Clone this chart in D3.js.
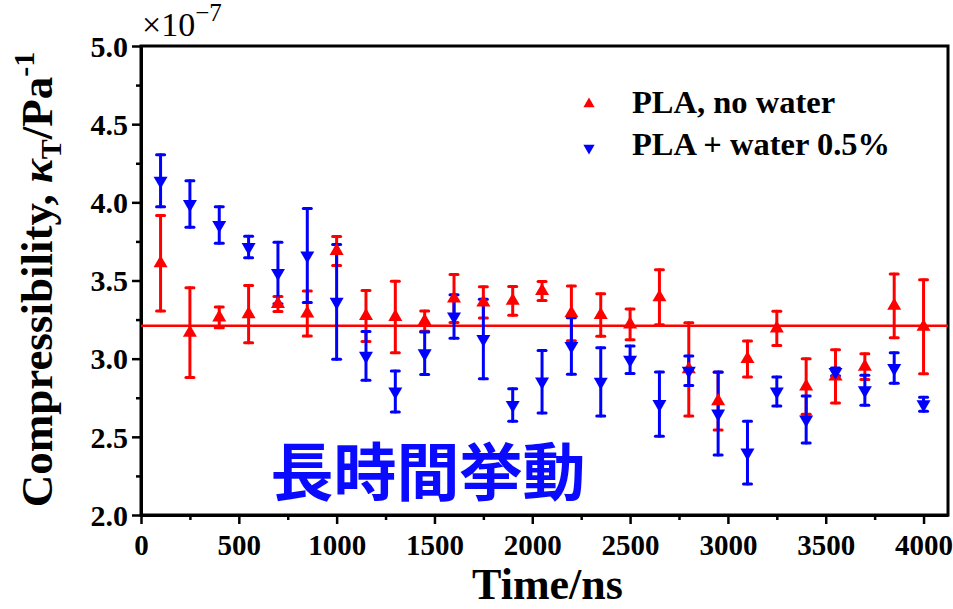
<!DOCTYPE html>
<html>
<head>
<meta charset="utf-8">
<script src="https://cdn.jsdelivr.net/npm/d3@7"></script>
<style>
  html, body { margin: 0; padding: 0; background: #fff; }
  svg { display: block; }
</style>
</head>
<body>
<svg id="chart" width="953" height="609"></svg>
<script>
// Simulation time (ns)
const times = [100, 250, 400, 550, 700, 850, 1000, 1150, 1300, 1450, 1600, 1750, 1900, 2050,
  2200, 2350, 2500, 2650, 2800, 2950, 3100, 3250, 3400, 3550, 3700, 3850, 4000];

// Isothermal compressibility (×10^-7 Pa^-1), PLA without water
const dryValues = [3.61, 3.166, 3.264, 3.285, 3.35, 3.289, 3.689, 3.273, 3.267, 3.24, 3.385, 3.36, 3.37, 3.433,
  3.29, 3.279, 3.219, 3.393, 2.932, 2.728, 2.998, 3.194, 2.822, 2.887, 2.949, 3.338, 3.204];
const dryErrors = [0.305, 0.287, 0.066, 0.183, 0.048, 0.144, 0.093, 0.163, 0.229, 0.065, 0.153, 0.10, 0.092, 0.061,
  0.175, 0.136, 0.098, 0.176, 0.298, 0.185, 0.115, 0.11, 0.178, 0.17, 0.083, 0.204, 0.30];

// PLA with 0.5% water
const wetValues = [4.138, 3.989, 3.855, 3.714, 3.548, 3.66, 3.363, 3.018, 2.79, 3.034, 3.27, 3.126, 2.704, 2.853,
  3.081, 2.852, 2.993, 2.709, 2.923, 2.649, 2.399, 2.79, 2.611, 2.915, 2.798, 2.94, 2.708];
const wetErrors = [0.166, 0.149, 0.117, 0.069, 0.197, 0.30, 0.367, 0.156, 0.131, 0.136, 0.139, 0.254, 0.104, 0.20,
  0.181, 0.218, 0.088, 0.205, 0.094, 0.266, 0.20, 0.093, 0.15, 0.025, 0.096, 0.098, 0.045];

// Mean level of the dry series
const dryMean = 3.21;

const seriesNames = ["PLA, no water", "PLA + water 0.5%"];
const xTicks = [0, 500, 1000, 1500, 2000, 2500, 3000, 3500, 4000];
const xMinorTicks = [250, 750, 1250, 1750, 2250, 2750, 3250, 3750];
const yTicks = [2.0, 2.5, 3.0, 3.5, 4.0, 4.5, 5.0];
const yMinorTicks = [2.25, 2.75, 3.25, 3.75, 4.25, 4.75];
const annotation = "長時間挙動";

const RED = "#ff0000", BLUE = "#0000ff";
const serif = "'Liberation Serif', 'Times New Roman', serif";

const margin = { left: 141, right: 5, top: 46, bottom: 94 };
const W = 953, H = 609;
const svg = d3.select("#chart");

const x = d3.scaleLinear().domain([0, 4125]).range([margin.left, W - margin.right]);
const y = d3.scaleLinear().domain([2.0, 5.0]).range([H - margin.bottom, margin.top]);

// Axes
const xAxis = svg.append("g").attr("transform", `translate(0,${y(2.0)})`)
  .call(d3.axisBottom(x).tickValues(xTicks).tickSize(9).tickSizeOuter(0).tickFormat(d3.format("d")));
svg.append("g").attr("transform", `translate(0,${y(2.0)})`)
  .call(d3.axisBottom(x).tickValues(xMinorTicks).tickSize(5).tickSizeOuter(0).tickFormat(""))
  .call(g => g.select(".domain").remove());
const yAxis = svg.append("g").attr("transform", `translate(${x(0)},0)`)
  .call(d3.axisLeft(y).tickValues(yTicks).tickSize(9).tickSizeOuter(0).tickFormat(d3.format(".1f")));
svg.append("g").attr("transform", `translate(${x(0)},0)`)
  .call(d3.axisLeft(y).tickValues(yMinorTicks).tickSize(5).tickSizeOuter(0).tickFormat(""))
  .call(g => g.select(".domain").remove());

svg.selectAll(".tick line").attr("stroke", "#000").attr("stroke-width", 2.5);
svg.selectAll(".domain").attr("stroke", "#000").attr("stroke-width", 3);
xAxis.selectAll(".tick text").attr("font-family", serif).attr("font-weight", "bold")
  .attr("font-size", 29).attr("fill", "#000").attr("dy", "0.95em");
yAxis.selectAll(".tick text").attr("font-family", serif).attr("font-weight", "bold")
  .attr("font-size", 30).attr("fill", "#000").attr("x", -13).attr("dy", "0.34em");

// Frame
svg.append("rect")
  .attr("x", x(0)).attr("y", y(5.0))
  .attr("width", x(4125) - x(0)).attr("height", y(2.0) - y(5.0))
  .attr("fill", "none").attr("stroke", "#000").attr("stroke-width", 3);

// Axis multiplier
const mult = svg.append("text").attr("x", x(0) + 1).attr("y", 36)
  .attr("font-family", serif).attr("font-size", 34).attr("fill", "#000");
mult.append("tspan").text("×10");
mult.append("tspan").attr("dy", -15).attr("font-size", 25).text("−7");

// Axis titles
svg.append("text")
  .attr("x", (x(0) + x(4125)) / 2 + 3).attr("y", 599)
  .attr("text-anchor", "middle")
  .attr("font-family", serif).attr("font-weight", "bold").attr("font-size", 44)
  .text("Time/ns");

const yTitle = svg.append("text")
  .attr("transform", `translate(52,${(y(2) + y(5)) / 2 - 1}) rotate(-90)`)
  .attr("text-anchor", "middle")
  .attr("font-family", serif).attr("font-weight", "bold").attr("font-size", 45);
yTitle.append("tspan").text("Compressibility, ");
yTitle.append("tspan").attr("font-style", "italic").text("κ");
yTitle.append("tspan").attr("font-size", 30).attr("dy", 9).text("T");
yTitle.append("tspan").attr("dy", -9).text("/Pa");
yTitle.append("tspan").attr("font-size", 30).attr("dy", -18).text("-1");

// Mean line
svg.append("line")
  .attr("x1", x(0)).attr("x2", x(4125))
  .attr("y1", y(dryMean)).attr("y2", y(dryMean))
  .attr("stroke", RED).attr("stroke-width", 2.5);

const dry = times.map((t, i) => ({ t, v: dryValues[i], e: dryErrors[i] }));
const wet = times.map((t, i) => ({ t, v: wetValues[i], e: wetErrors[i] }));

function errorBars(data, color) {
  const g = svg.append("g").attr("stroke", color).attr("stroke-width", 3).attr("stroke-linecap", "round");
  data.forEach(d => {
    const cx = x(d.t), y1 = y(d.v + d.e), y2 = y(d.v - d.e);
    g.append("line").attr("x1", cx).attr("x2", cx).attr("y1", y1).attr("y2", y2);
    g.append("line").attr("x1", cx - 4).attr("x2", cx + 4).attr("y1", y1).attr("y2", y1);
    g.append("line").attr("x1", cx - 4).attr("x2", cx + 4).attr("y1", y2).attr("y2", y2);
  });
}

const tri = d3.symbol().type(d3.symbolTriangle).size(85);
function markers(data, color, flip) {
  svg.append("g").selectAll("path").data(data).join("path")
    .attr("d", tri)
    .attr("transform", d => `translate(${x(d.t)},${y(d.v)})${flip ? " rotate(180)" : ""}`)
    .attr("fill", color);
}

errorBars(dry, RED);
errorBars(wet, BLUE);
markers(dry, RED, false);
markers(wet, BLUE, true);

// Legend
const legTri = d3.symbol().type(d3.symbolTriangle).size(55);
const legend = svg.append("g");
[[RED, false, 104, 113], [BLUE, true, 148, 155]].forEach(([c, flip, my, ty], i) => {
  legend.append("path").attr("d", legTri)
    .attr("transform", `translate(589,${my})${flip ? " rotate(180)" : ""}`)
    .attr("fill", c);
  legend.append("text").attr("x", 632).attr("y", ty)
    .attr("font-family", serif).attr("font-weight", "bold").attr("font-size", 32.5)
    .text(seriesNames[i]);
});

// Annotation
svg.append("text")
  .attr("x", 428).attr("y", 495)
  .attr("text-anchor", "middle")
  .attr("font-family", "'Noto Sans CJK JP', 'Noto Sans CJK SC', sans-serif")
  .attr("font-weight", "bold").attr("font-size", 63)
  .attr("fill", "#0a0aff")
  .text(annotation);
</script>
</body>
</html>
